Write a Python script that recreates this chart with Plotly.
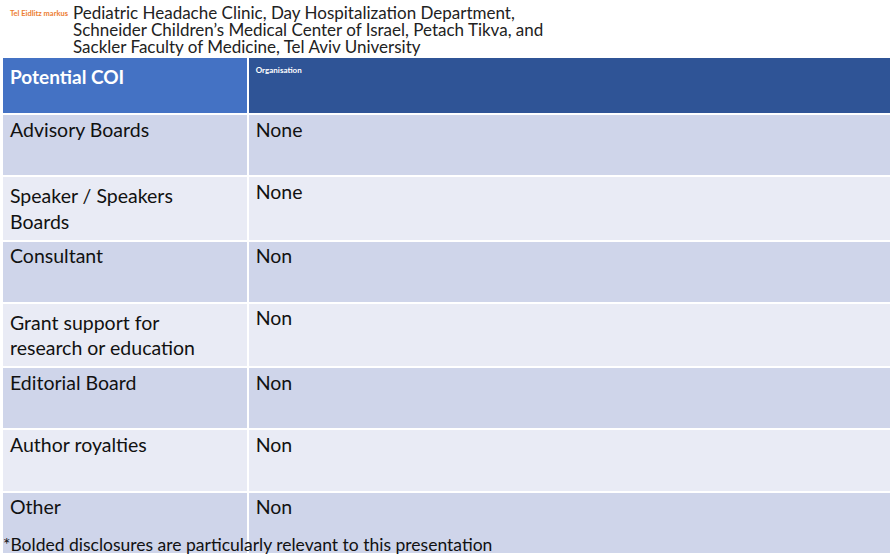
import plotly.graph_objects as go

header_labels = ["Potential COI", "Organisation"]
categories = ["Advisory Boards", "Speaker / Speakers<br>Boards", "Consultant",
              "Grant support for<br>research or education", "Editorial Board",
              "Author royalties", "Other"]
organisation = ["None", "None", "Non", "Non", "Non", "Non", "Non"]

title_lines = ["Pediatric Headache Clinic, Day Hospitalization Department,",
               "Schneider Children\u2019s Medical Center of Israel, Petach Tikva, and",
               "Sackler Faculty of Medicine, Tel Aviv University"]
author_tag = "Tel Eidlitz markus"
footnote = "*Bolded disclosures are particularly relevant to this presentation"

W, H = 894, 556
row_colors = ["#CFD5EA" if i % 2 == 0 else "#E9EBF5" for i in range(len(categories))]

fig = go.Figure(go.Table(
    domain=dict(x=[2 / W, 892 / W], y=[1 - 553 / H, 1 - 57 / H]),
    columnwidth=[246, 644],
    header=dict(
        values=["<b>%s</b>" % h for h in header_labels],
        fill_color=["#4472C4", "#2F5496"],
        line=dict(color="white", width=2),
        align="left",
        height=57,
        font=dict(family="Lato", color="white", size=[19, 8]),
    ),
    cells=dict(
        values=[categories, organisation],
        fill_color=[row_colors, row_colors],
        line=dict(color="white", width=2),
        align="left",
        height=62.2,
        font=dict(family="Lato", color="#111111", size=19.5),
    ),
))

for i, line in enumerate(title_lines):
    fig.add_annotation(x=72 / W, y=1 - (1 + 17 * i) / H, xref="paper", yref="paper",
                       xanchor="left", yanchor="top", align="left",
                       text=line, showarrow=False, borderpad=0,
                       font=dict(family="Lato", size=17, color="#222222"))
fig.add_annotation(x=9 / W, y=1 - 8 / H, xref="paper", yref="paper",
                   xanchor="left", yanchor="top", text="<b>%s</b>" % author_tag,
                   showarrow=False, borderpad=0,
                   font=dict(family="Lato", size=7.5, color="#ED7D31"))
fig.add_annotation(x=2 / W, y=1 - 533 / H, xref="paper", yref="paper",
                   xanchor="left", yanchor="top", text=footnote, showarrow=False,
                   borderpad=0,
                   font=dict(family="Lato", size=17.5, color="#111111"))

fig.update_layout(width=W, height=H, margin=dict(l=0, r=0, t=0, b=0),
                  paper_bgcolor="white", plot_bgcolor="white")
fig.write_html("out.html", config={"displayModeBar": False},
               post_script="document.body.style.margin='0';document.body.style.overflow='hidden';")
